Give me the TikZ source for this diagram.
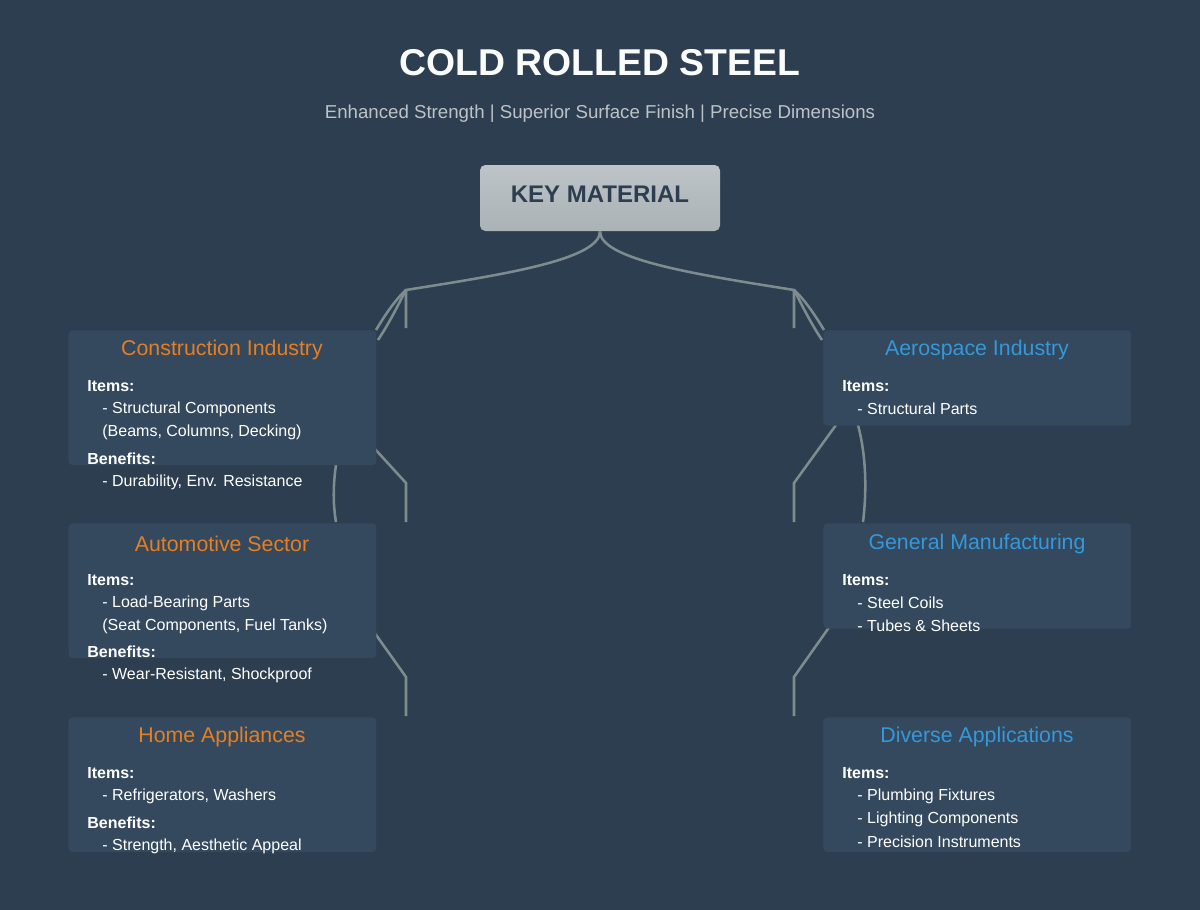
\documentclass[tikz,border=0pt]{standalone}
\usepackage{fontspec}
\setmainfont{Liberation Sans}
\usetikzlibrary{positioning}
\definecolor{bgdark}{HTML}{2C3E50}
\definecolor{panel}{HTML}{34495E}
\definecolor{wire}{HTML}{7F8C8D}
\definecolor{orng}{HTML}{E67E22}
\definecolor{blu}{HTML}{3498DB}
\definecolor{subgrey}{HTML}{BDC3C7}

\begin{document}
\begin{tikzpicture}[
            x = 0.75pt, y = -0.75pt,
            semithick % line style
        ]

        \tikzstyle{panel}=[fill = panel, rounded corners = 3pt, inner sep = 0pt, anchor = north west]
        \tikzstyle{head}=[font = \fontsize{16}{19}\selectfont]
        \tikzstyle{lbl}=[anchor = west, inner sep = 0pt, text = white, font = \fontsize{12}{14}\selectfont\bfseries]
        \tikzstyle{itm}=[anchor = west, inner sep = 0pt, text = white, font = \fontsize{12}{14}\selectfont]
        \tikzstyle{wire}=[draw = wire, line width = 1.9pt]

        \fill[bgdark] (0,0) rectangle (1200,910);

        % connectors (behind the panels)
        \coordinate (LS) at (406,290);
        \coordinate (RS) at (794,290);
        \node[minimum width = 180pt, minimum height = 49.5pt, inner sep = 0pt, rounded corners = 4pt,
              top color = subgrey, bottom color = subgrey!70!wire] (KM) at (600,198) {};
        \draw[wire] (KM.south) .. controls (600,260) and (500,275) .. (LS) -- (406,328);
        \draw[wire] (KM.south) .. controls (600,260) and (700,275) .. (RS) -- (794,328);
        \draw[wire] (LS) .. controls (395,300) and (385,315) .. (376,330);
        \draw[wire] (LS) .. controls (398,305) and (390,322) .. (378,340);
        \draw[wire] (RS) .. controls (805,300) and (815,315) .. (824,330);
        \draw[wire] (RS) .. controls (802,305) and (810,322) .. (822,340);
        \draw[wire] (374,448) -- (406,483) -- (406,522);
        \draw[wire] (336,465) .. controls (333,485) and (333,505) .. (336,522);
        \draw[wire] (374,632) -- (406,677) -- (406,716);
        \draw[wire] (836,425) -- (794,483) -- (794,522);
        \draw[wire] (858,425) .. controls (866,455) and (867,490) .. (863,522);
        \draw[wire] (830,626) -- (794,677) -- (794,716);

        % title
        \node[text = white!93!subgrey, font = \fontsize{28}{32}\selectfont\bfseries] (title) at (600,63) {COLD ROLLED STEEL};
        \node[text = subgrey, font = \fontsize{14}{17}\selectfont] (sub) at (600,114) {Enhanced Strength | Superior Surface Finish | Precise Dimensions};
        \node[text = bgdark, font = \fontsize{18}{22}\selectfont\bfseries] (KMt) at (600,194) {KEY MATERIAL};

        % left panels
        \node[panel, minimum width = 231pt, minimum height = 101pt] (CI) at (68,330) {};
        \node[head, text = orng] (CIh) at (222,350) {Construction Industry};
        \node[lbl] (CI1) at (87,386) {Items:};
        \node[itm] (CI2) at (102,409) {- Structural Components};
        \node[itm] (CI3) at (102,432) {(Beams, Columns, Decking)};
        \node[lbl] (CI4) at (87,459) {Benefits:};
        \node[itm] (CI5) at (102,482) {- Durability, Env. Resistance};

        \node[panel, minimum width = 231pt, minimum height = 101pt] (AS) at (68,523) {};
        \node[head, text = orng] (ASh) at (222,544) {Automotive Sector};
        \node[lbl] (AS1) at (87,580) {Items:};
        \node[itm] (AS2) at (102,603) {- Load-Bearing Parts};
        \node[itm] (AS3) at (102,626) {(Seat Components, Fuel Tanks)};
        \node[lbl] (AS4) at (87,652) {Benefits:};
        \node[itm] (AS5) at (102,675) {- Wear-Resistant, Shockproof};

        \node[panel, minimum width = 231pt, minimum height = 101pt] (HA) at (68,717) {};
        \node[head, text = orng] (HAh) at (222,737) {Home Appliances};
        \node[lbl] (HA1) at (87,773) {Items:};
        \node[itm] (HA2) at (102,796) {- Refrigerators, Washers};
        \node[lbl] (HA3) at (87,823) {Benefits:};
        \node[itm] (HA4) at (102,846) {- Strength, Aesthetic Appeal};

        % right panels
        \node[panel, minimum width = 231pt, minimum height = 71.5pt] (AI) at (823,330) {};
        \node[head, text = blu] (AIh) at (977,350) {Aerospace Industry};
        \node[lbl] (AI1) at (842,386) {Items:};
        \node[itm] (AI2) at (857,409) {- Structural Parts};

        \node[panel, minimum width = 231pt, minimum height = 79pt] (GM) at (823,523) {};
        \node[head, text = blu] (GMh) at (977,544) {General Manufacturing};
        \node[lbl] (GM1) at (842,580) {Items:};
        \node[itm] (GM2) at (857,603) {- Steel Coils};
        \node[itm] (GM3) at (857,626) {- Tubes \& Sheets};

        \node[panel, minimum width = 231pt, minimum height = 101pt] (DA) at (823,717) {};
        \node[head, text = blu] (DAh) at (977,737) {Diverse Applications};
        \node[lbl] (DA1) at (842,773) {Items:};
        \node[itm] (DA2) at (857,796) {- Plumbing Fixtures};
        \node[itm] (DA3) at (857,819) {- Lighting Components};
        \node[itm] (DA4) at (857,842) {- Precision Instruments};

        \useasboundingbox (0,0) rectangle (1200,910);
  \end{tikzpicture}
\end{document}
